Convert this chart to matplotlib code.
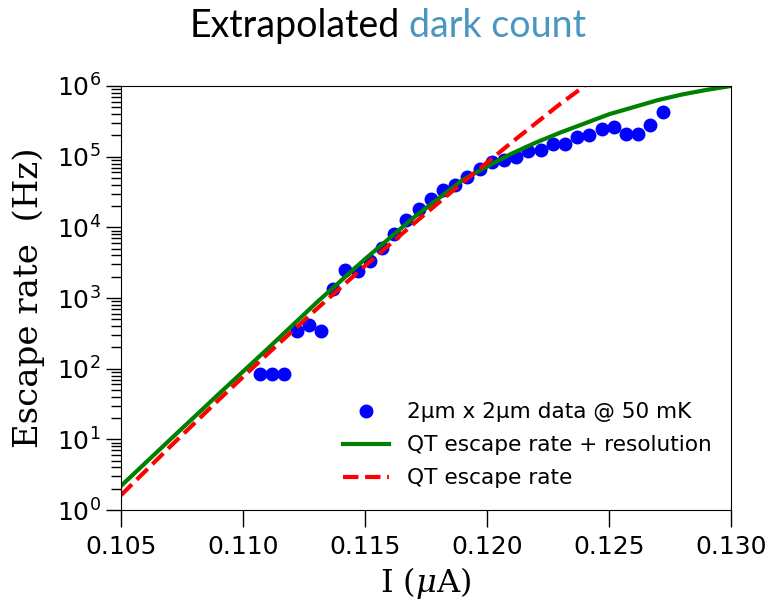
# Extrapolated dark count: escape rate vs bias current
import matplotlib
matplotlib.use("Agg")
import matplotlib.pyplot as plt

# measured escape rate, 2um x 2um junction @ 50 mK
current = [0.1107, 0.1112, 0.1117, 0.1122, 0.1127, 0.1132, 0.1137, 0.1142,
           0.1147, 0.1152, 0.1157, 0.1162, 0.1167, 0.1172, 0.1177, 0.1182,
           0.1187, 0.1192, 0.1197, 0.1202, 0.1207, 0.1212, 0.1217, 0.1222,
           0.1227, 0.1232, 0.1237, 0.1242, 0.1247, 0.1252, 0.1257, 0.1262,
           0.1267, 0.1272]
rate = [84, 84, 84, 341, 415, 341, 1340, 2490,
        2400, 3340, 5100, 8000, 12700, 18100, 25000, 33600,
        39600, 51700, 66800, 83200, 88800, 99800, 120000, 124000,
        151000, 150000, 188000, 205000, 249000, 260000, 211000, 209000,
        280000, 424000]

# QT escape rate + resolution (green)
res_current = [0.105, 0.107, 0.109, 0.111, 0.113, 0.115, 0.117, 0.119, 0.120,
               0.121, 0.122, 0.123, 0.124, 0.125, 0.126, 0.127, 0.128, 0.129, 0.130]
res_rate = [2.19, 9.8, 43.6, 190, 851, 3550, 13800, 46800, 72400,
            110000, 158000, 219000, 295000, 398000, 501000, 631000, 759000, 881000, 1.0e6]

# QT escape rate (red dashed)
qt_current = [0.105, 0.107, 0.109, 0.111, 0.113, 0.115, 0.117, 0.119, 0.121, 0.123, 0.124]
qt_rate = [1.62, 7.8, 36.1, 161, 690, 2845, 11300, 43000, 158000, 558000, 1.0e6]

xticks = [0.105, 0.110, 0.115, 0.120, 0.125, 0.130]

plt.rcParams['mathtext.fontset'] = 'custom'
plt.rcParams['mathtext.rm'] = 'DejaVu Sans'
plt.rcParams['mathtext.it'] = 'DejaVu Serif:italic'

fig = plt.figure(figsize=(7.72, 6.03), dpi=100)
ax = fig.add_axes([0.1567, 0.1542, 0.7902, 0.7032])

ax.plot(current, rate, 'o', color='blue', markersize=9, label='2\u00b5m x 2\u00b5m data @ 50 mK')
ax.plot(res_current, res_rate, '-', color='green', lw=3, label='QT escape rate + resolution')
ax.plot(qt_current, qt_rate, '--', color='red', lw=3, label='QT escape rate')

ax.set_yscale('log')
ax.set_xlim(0.105, 0.130)
ax.set_ylim(1, 1e6)
ax.set_xticks(xticks)
ax.set_xticklabels(['%.3f' % t for t in xticks], fontsize=18)
ax.tick_params(axis='y', which='major', labelsize=18, direction='out', length=11, width=1)
ax.tick_params(axis='y', which='minor', direction='out', length=7, width=1)
ax.tick_params(axis='x', which='major', direction='out', length=12, width=1, pad=6)

ax.set_xlabel('I ($\\mu$A)', fontsize=23, family='DejaVu Serif')
ax.set_ylabel('Escape rate  (Hz)', fontsize=24.5, family='DejaVu Serif')
ax.yaxis.set_label_coords(-0.125, 0.5)

ax.legend(loc='lower right', bbox_to_anchor=(1.0, 0.005), frameon=False, fontsize=15.6,
          numpoints=1, handlelength=2.15, labelspacing=0.6)

# two-colour title
fig.text(400 / 772, 1 - 37 / 603, 'Extrapolated', ha='right', va='baseline',
         fontsize=27, family='Lato', color='black')
fig.text(409 / 772, 1 - 37 / 603, 'dark count', ha='left', va='baseline',
         fontsize=27, family='Lato', color='#4a96c2')

fig.savefig('out.png', dpi=100)
